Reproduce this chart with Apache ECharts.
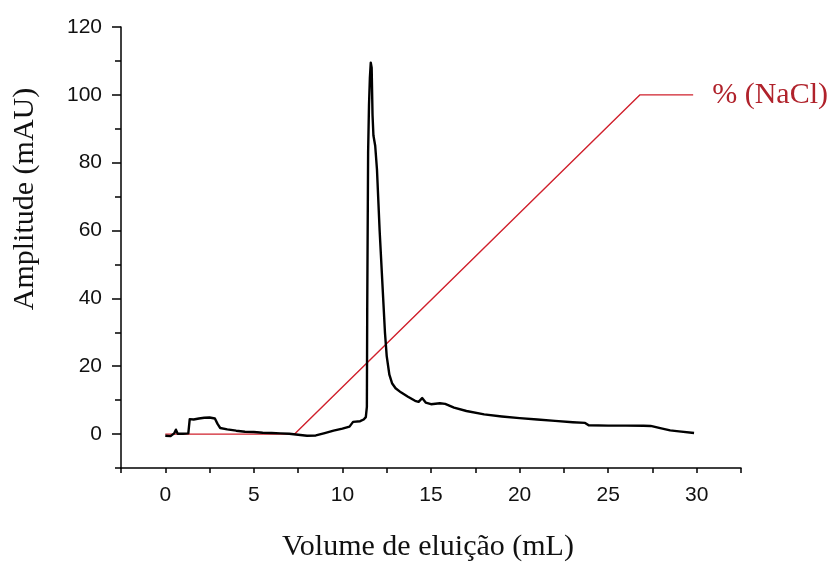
<!DOCTYPE html>
<html>
<head>
<meta charset="utf-8">
<script src="https://cdn.jsdelivr.net/npm/echarts@6/dist/echarts.min.js"></script>
<style>
html,body{margin:0;padding:0;background:#fff;}
#chart{width:835px;height:562px;}
</style>
</head>
<body>
<div id="chart"></div>
<script>
// Elution volume (mL) and absorbance (mAU)
const volume = [0, 0.3, 0.5, 0.6, 0.7, 1.0, 1.3, 1.38, 1.6, 1.9, 2.2, 2.5, 2.8, 2.95, 3.1, 3.5, 4.0, 4.5, 5.0, 5.5, 6.0, 6.5, 7.0, 7.5, 8.0, 8.5, 9.0, 9.5, 10.0, 10.4, 10.6, 11.0, 11.2, 11.32, 11.38, 11.4, 11.45, 11.5, 11.55, 11.6, 11.65, 11.7, 11.75, 11.85, 11.95, 12.1, 12.25, 12.4, 12.5, 12.65, 12.8, 13.0, 13.3, 13.7, 14.1, 14.3, 14.5, 14.7, 15.0, 15.5, 15.8, 16.3, 17.0, 18.0, 19.0, 20.0, 21.0, 22.0, 23.0, 23.7, 23.9, 25.0, 26.0, 27.0, 27.4, 28.0, 28.5, 29.0, 29.85];
const amplitude = [-0.5, -0.6, 0.2, 1.3, 0.1, 0.1, 0.2, 4.4, 4.3, 4.6, 4.8, 4.9, 4.6, 3.0, 1.8, 1.4, 1.0, 0.7, 0.6, 0.4, 0.3, 0.2, 0.1, -0.2, -0.5, -0.4, 0.3, 1.0, 1.6, 2.2, 3.6, 3.8, 4.3, 5.0, 8.0, 37, 83, 97, 105, 109.5, 108, 94, 88, 85, 78, 60, 45, 30, 23, 17.5, 15, 13.5, 12.3, 11, 9.8, 9.5, 10.6, 9.3, 8.8, 9.1, 8.9, 7.8, 6.8, 5.8, 5.2, 4.7, 4.3, 3.9, 3.5, 3.3, 2.6, 2.5, 2.5, 2.45, 2.4, 1.7, 1.1, 0.8, 0.3];
// NaCl gradient (%)
const naclVolume = [0, 7.3, 26.8, 29.8];
const naclPercent = [0, 0, 100, 100];
const naclLabel = '% (NaCl)';
// Axis ticks
const xTicks = [0, 5, 10, 15, 20, 25, 30];
const yTicks = [0, 20, 40, 60, 80, 100, 120];
const xTitle = 'Volume de eluição (mL)';
const yTitle = 'Amplitude (mAU)';

const absData = volume.map((v, i) => [v, amplitude[i]]);
const naclData = naclVolume.map((v, i) => [v, naclPercent[i]]);

const chart = echarts.init(document.getElementById('chart'), null, {renderer: 'canvas'});
const axisFont = {fontFamily: 'Liberation Sans', fontSize: 21, color: '#111'};
chart.setOption({
  animation: false,
  backgroundColor: '#fff',
  grid: {left: 121, top: 27, right: 94, bottom: 94, containLabel: false},
  xAxis: {
    type: 'value', min: -2.5, max: 32.5, interval: 2.5,
    splitLine: {show: false},
    axisLine: {show: true, onZero: false, lineStyle: {color: '#000', width: 1.5}},
    axisTick: {show: true, inside: false, length: 5, lineStyle: {color: '#000', width: 1.5}},
    axisLabel: Object.assign({margin: 17, formatter: v => xTicks.includes(v) ? String(v) : ''}, axisFont)
  },
  yAxis: [{
    type: 'value', min: -10, max: 120, interval: 10,
    splitLine: {show: false},
    axisLine: {show: true, onZero: false, lineStyle: {color: '#000', width: 1.5}},
    axisTick: {show: true, inside: false, length: 6, lineStyle: {color: '#000', width: 1.5}},
    axisLabel: Object.assign({margin: 19, formatter: v => yTicks.includes(v) ? String(v) : ''}, axisFont)
  }, {
    type: 'value', min: -10, max: 120, interval: 10, position: 'left', offset: 0,
    splitLine: {show: false},
    axisLine: {show: false, onZero: false},
    axisTick: {show: true, inside: false, length: 9, customValues: yTicks, lineStyle: {color: '#000', width: 1.5}},
    axisLabel: {show: false}
  }],
  graphic: [
    {type: 'text', x: 428, y: 547, style: {text: xTitle, font: '30px "Liberation Serif"', fill: '#111', textAlign: 'center', textVerticalAlign: 'middle'}},
    {type: 'text', x: 25, y: 199, rotation: Math.PI / 2, style: {text: yTitle, font: '30px "Liberation Serif"', fill: '#111', textAlign: 'center', textVerticalAlign: 'middle'}}
  ],
  series: [{
    type: 'line', data: naclData, yAxisIndex: 0, symbol: 'none', z: 2,
    lineStyle: {color: '#d0202c', width: 1.4},
    endLabel: {show: true, formatter: naclLabel, distance: 19, fontFamily: 'Liberation Serif', fontSize: 30, color: '#b0222b'}
  }, {
    type: 'line', data: absData, yAxisIndex: 0, symbol: 'none', z: 3,
    lineStyle: {color: '#000', width: 2.4, join: 'round'}
  }]
});
</script>
</body>
</html>
